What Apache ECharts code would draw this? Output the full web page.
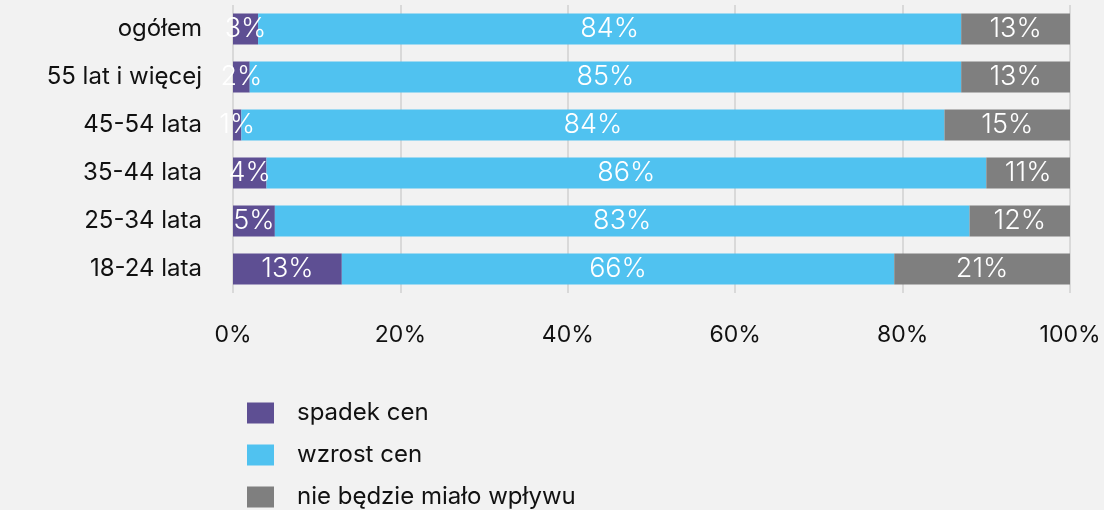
<!DOCTYPE html>
<html>
<head>
<meta charset="utf-8">
<script src="https://cdn.jsdelivr.net/npm/echarts@6/dist/echarts.min.js"></script>
<style>
  html, body { margin: 0; padding: 0; background: #f2f2f2; }
  #chart { width: 1104px; height: 510px; }
</style>
</head>
<body>
<div id="chart"></div>
<script>
// kategorie wieku (od góry)
const categories = ['ogółem', '55 lat i więcej', '45-54 lata', '35-44 lata', '25-34 lata', '18-24 lata']
const seriesNames = ['spadek cen', 'wzrost cen', 'nie będzie miało wpływu']
const spadek = [3, 2, 1, 4, 5, 13]
const wzrost = [84, 85, 84, 86, 83, 66]
const brakWplywu = [13, 13, 15, 11, 12, 21]
const colors = ['#5e4f93', '#50c2f0', '#7f7f7f']

const font = 'Inter, "Noto Sans", sans-serif'

function barSeries (name, data, color) {
  return {
    name: name,
    type: 'bar',
    stack: 'total',
    barWidth: 31,
    data: data,
    itemStyle: { color: color },
    label: {
      show: true,
      position: 'inside',
      formatter: '{c}%',
      color: '#fff',
      fontSize: 27,
      fontFamily: font,
      fontWeight: 300
    }
  }
}

const myChart = echarts.init(document.getElementById('chart'))
const option = {
  backgroundColor: '#f2f2f2',
  grid: {
    left: 233,
    right: 34,
    top: 5,
    bottom: 217
  },
  legend: {
    orient: 'vertical',
    left: 247,
    top: 401,
    height: 120,
    padding: 0,
    itemWidth: 27,
    itemHeight: 21,
    itemGap: 18,
    icon: 'rect',
    data: seriesNames,
    textStyle: {
      fontSize: 24,
      lineHeight: 21,
      fontFamily: font,
      color: '#111',
      padding: [0, 0, 0, 18]
    }
  },
  xAxis: {
    type: 'value',
    min: 0,
    max: 100,
    interval: 20,
    axisLabel: {
      formatter: '{value}%',
      fontSize: 23,
      fontFamily: font,
      color: '#111',
      margin: 31
    },
    splitLine: { lineStyle: { color: '#d9d9d9', width: 2 } },
    axisLine: { show: false },
    axisTick: { show: false }
  },
  yAxis: {
    type: 'category',
    inverse: true,
    data: categories,
    axisLine: { show: false },
    axisTick: { show: false },
    axisLabel: {
      fontSize: 24,
      fontFamily: font,
      color: '#111',
      margin: 31
    }
  },
  series: [
    barSeries(seriesNames[0], spadek, colors[0]),
    barSeries(seriesNames[1], wzrost, colors[1]),
    barSeries(seriesNames[2], brakWplywu, colors[2])
  ]
}
myChart.setOption(option)
</script>
</body>
</html>
